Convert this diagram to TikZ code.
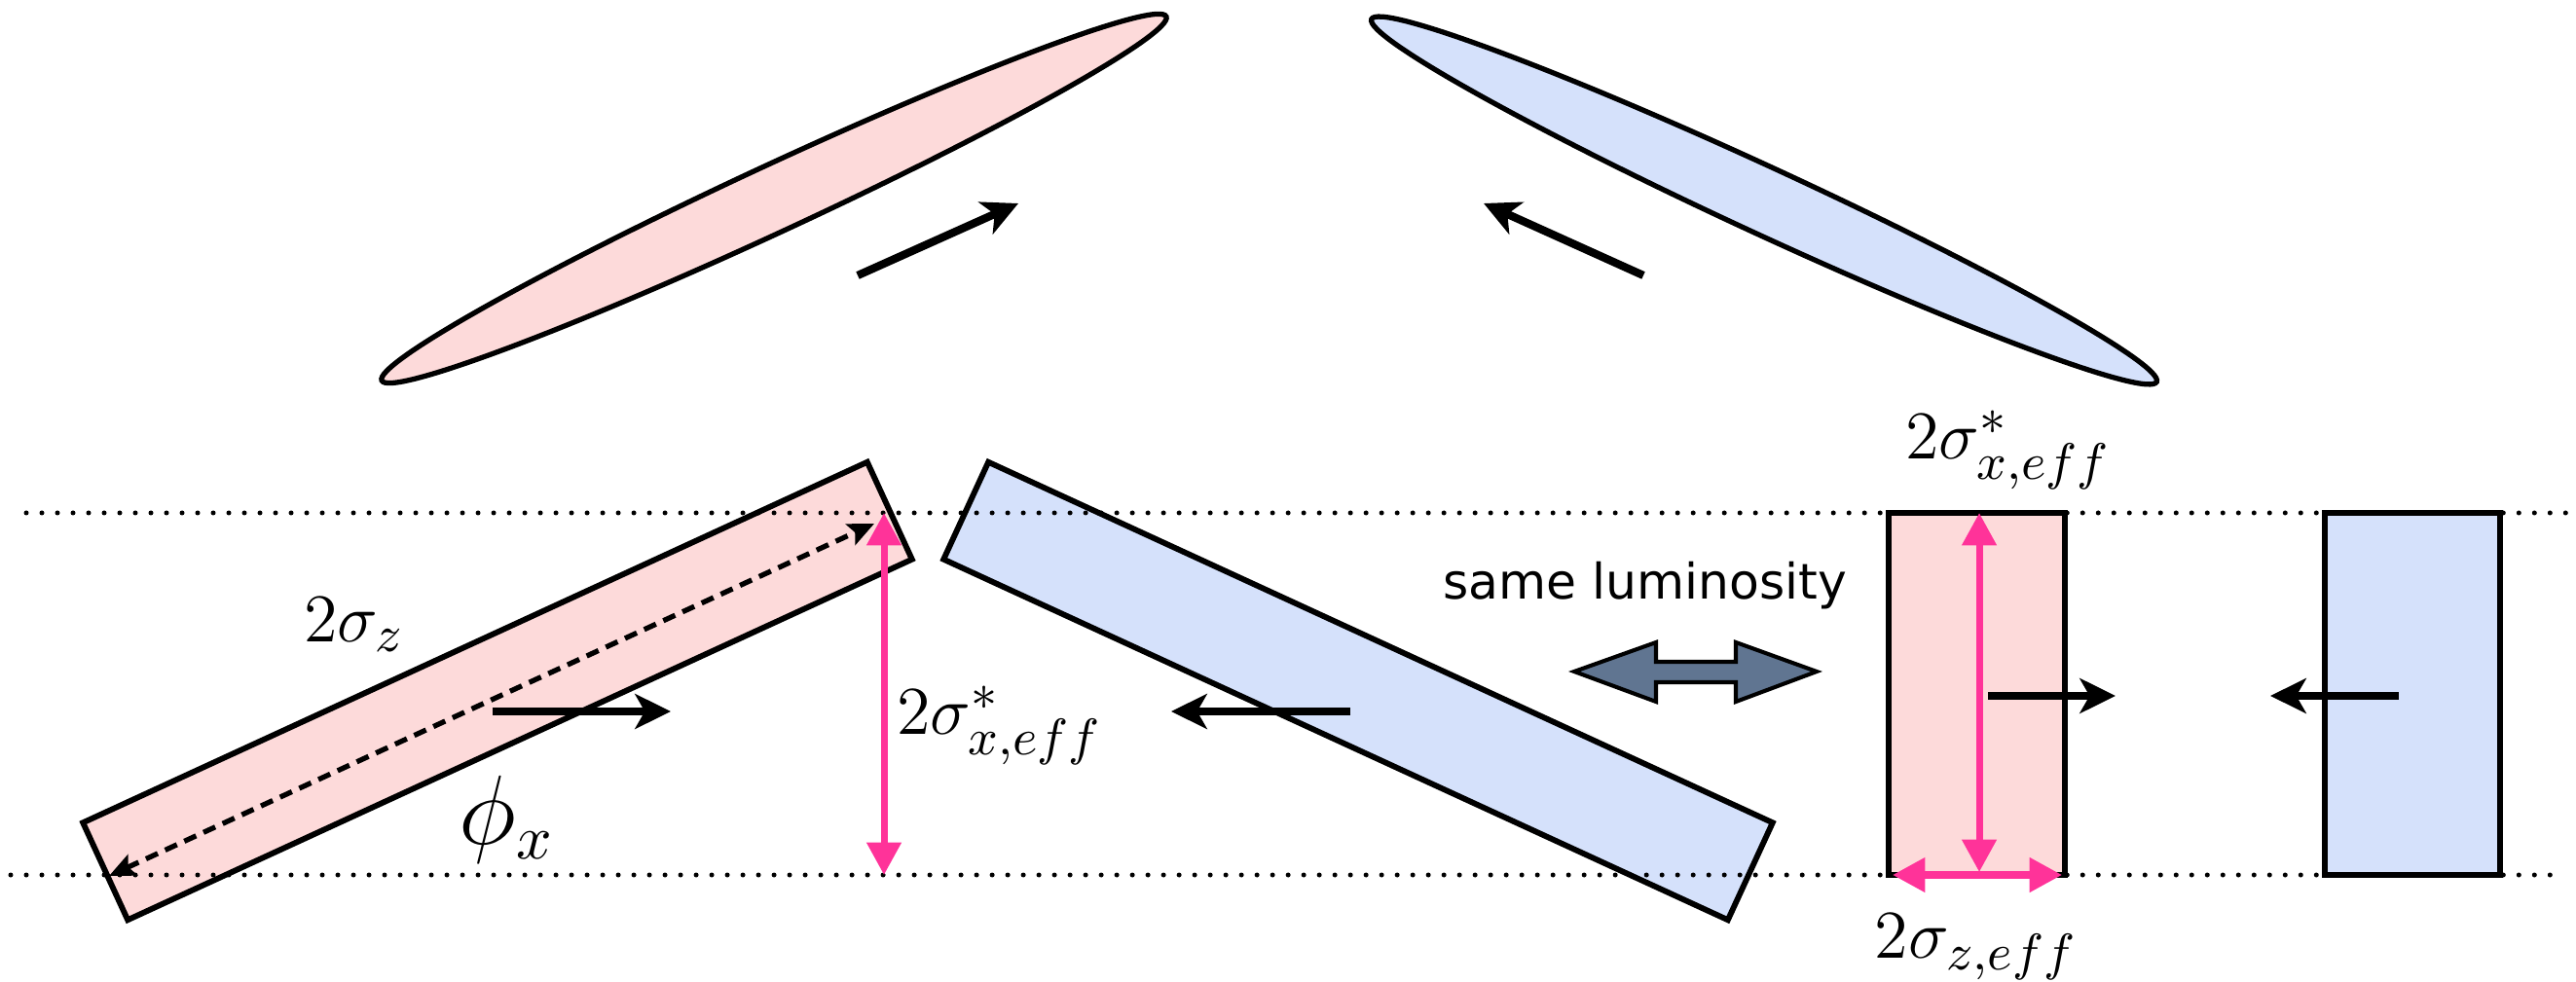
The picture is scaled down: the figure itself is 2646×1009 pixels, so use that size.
\documentclass[tikz,border=0pt]{standalone}
\usepackage{fontspec}
\newfontfamily\lumfont{DejaVu Sans}
\usetikzlibrary{arrows.meta,shapes.geometric}
\definecolor{beampink}{RGB}{253,218,218}
\definecolor{beamblue}{RGB}{213,225,251}
\definecolor{hotpink}{RGB}{255,51,153}
\definecolor{slate}{RGB}{96,117,145}
\begin{document}
\begin{tikzpicture}[x=0.06mm,y=-0.06mm,
  beam/.style={draw=black,line width=1pt,inner sep=0pt},
  bunch/.style={ellipse,draw=black,line width=0.9pt,inner sep=0pt,minimum width=53.3mm,minimum height=4.1mm},
  dotline/.style={line width=0.3mm,line cap=round,dash pattern=on 0pt off 0.96mm},
  motion/.style={line width=1.4pt,-{Stealth[length=2.2mm,width=2.15mm,inset=0.6mm]}},
  sizearrow/.style={hotpink,line width=1.2pt,{Triangle[length=2mm,width=2.05mm]}-{Triangle[length=2mm,width=2.05mm]}},
  lab/.style={inner sep=0pt,font=\fontsize{13}{15.5}\selectfont}]
\useasboundingbox (0,0) rectangle (2646,1009);
% top bunches
\node[bunch,fill=beampink,rotate=24.9] (ep) at (795,204) {};
\node[bunch,fill=beamblue,rotate=-24.8] (eb) at (1812,206) {};
\coordinate (ta1) at (881,283); \coordinate (ta2) at (1046,209);
\coordinate (tb1) at (1688,283); \coordinate (tb2) at (1524,209);
\draw[motion] (ta1) -- (ta2);
\draw[motion] (tb1) -- (tb2);
% tilted beams
\node[beam,fill=beampink,rotate=24.7,minimum width=53.2mm,minimum height=6.6mm] (rp) at (511,710) {};
\node[beam,fill=beamblue,rotate=-24.7,minimum width=53.2mm,minimum height=6.6mm] (rb) at (1395,710) {};
% head-on beams
\node[beam,fill=beampink,minimum width=10.86mm,minimum height=22.32mm] (hp) at (2030.5,713) {};
\node[beam,fill=beamblue,minimum width=10.8mm,minimum height=22.32mm] (hb) at (2478,713) {};
% dotted reference lines
\coordinate (dt1) at (27,527); \coordinate (dt2) at (2646,527);
\coordinate (db1) at (11,899); \coordinate (db2) at (2625,899);
\draw[dotline] (dt1) -- (dt2);
\draw[dotline] (db1) -- (db2);
% dashed long axis
\coordinate (da1) at (112,900); \coordinate (da2) at (898,538);
\draw[line width=0.9pt,dash pattern=on 0.8mm off 0.5mm,
  {Stealth[length=1.6mm,width=1.4mm,inset=0.3mm]}-{Stealth[length=1.6mm,width=1.4mm,inset=0.3mm]}] (da1) -- (da2);
% pink size arrows
\coordinate (pa1) at (908,527); \coordinate (pa2) at (908,899);
\draw[sizearrow] (pa1) -- (pa2);
\coordinate (pb1) at (2033,527); \coordinate (pb2) at (2033,896);
\draw[sizearrow] (pb1) -- (pb2);
\coordinate (pc1) at (1944,899); \coordinate (pc2) at (2118,899);
\draw[sizearrow] (pc1) -- (pc2);
% motion arrows
\coordinate (ma1) at (506,731); \coordinate (ma2) at (689,731);
\coordinate (mb1) at (1387,731); \coordinate (mb2) at (1203,731);
\coordinate (mc1) at (2042,715); \coordinate (mc2) at (2173,715);
\coordinate (md1) at (2464,715); \coordinate (md2) at (2332,715);
\draw[motion] (ma1) -- (ma2);
\draw[motion] (mb1) -- (mb2);
\draw[motion] (mc1) -- (mc2);
\draw[motion] (md1) -- (md2);
% block double arrow
\draw[line width=0.7pt,fill=slate,line join=miter]
  (1617,690) -- (1701,660) -- (1701,680) -- (1783,680) -- (1783,660) -- (1866,690)
  -- (1783,721) -- (1783,701) -- (1701,701) -- (1701,721) -- cycle;
% labels
\node[lab] (sz) at (364,642) {$2\sigma_z$};
\node[inner sep=0pt,font=\fontsize{16}{19}\selectfont] (phi) at (521,842) {$\phi_x$};
\node[lab,anchor=west] (sxa) at (920,745) {$2\sigma^*_{x,eff}$};
\node[lab] (sxb) at (2063,462) {$2\sigma^*_{x,eff}$};
\node[lab] (szb) at (2030,973) {$2\sigma_{z,eff}$};
\node[inner sep=0pt,font=\lumfont\fontsize{8.6}{10}\selectfont] (lum) at (1690,602) {same luminosity};
\end{tikzpicture}
\end{document}
